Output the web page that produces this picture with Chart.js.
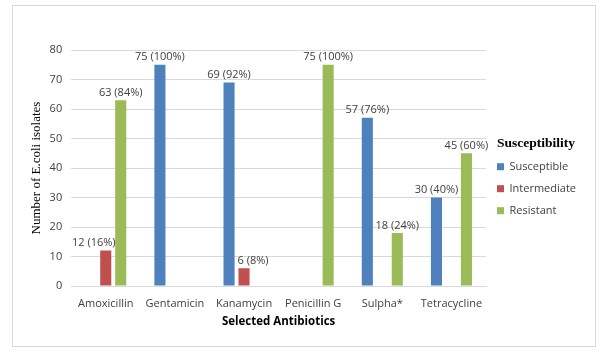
<!DOCTYPE html>
<html>
<head>
<meta charset="utf-8">
<script src="https://cdn.jsdelivr.net/npm/chart.js@4"></script>
<style>
html,body{margin:0;padding:0;background:#fff;}
#wrap{position:absolute;left:0;top:0;width:606px;height:355px;}
</style>
</head>
<body>
<div id="wrap"><canvas id="c" width="606" height="355"></canvas></div>
<script>
const categories = ["Amoxicillin", "Gentamicin", "Kanamycin", "Penicillin G", "Sulpha*", "Tetracycline"];
const susceptible = [0, 75, 69, 0, 57, 30];
const intermediate = [12, 0, 6, 0, 0, 0];
const resistant = [63, 0, 0, 75, 18, 45];
const totalIsolates = 75;
const seriesNames = ["Susceptible", "Intermediate", "Resistant"];
const yTicks = [0, 10, 20, 30, 40, 50, 60, 70, 80];

const tickFont = {family: "'Open Sans', sans-serif", size: 11};

const borderPlugin = {
  id: 'outerBorder',
  beforeDraw(chart) {
    const ctx = chart.ctx;
    ctx.save();
    ctx.fillStyle = '#fff';
    ctx.fillRect(0, 0, chart.width, chart.height);
    ctx.strokeStyle = '#d9d9d9';
    ctx.lineWidth = 1;
    ctx.strokeRect(12.5, 5.5, 583, 341);
    ctx.restore();
  }
};

const labelPlugin = {
  id: 'valueLabels',
  afterDatasetsDraw(chart, args, opts) {
    const ctx = chart.ctx;
    const nudges = opts.nudges || {};
    ctx.save();
    ctx.font = "11px 'Open Sans', sans-serif";
    ctx.fillStyle = '#404040';
    ctx.textAlign = 'center';
    ctx.textBaseline = 'bottom';
    chart.data.datasets.forEach((ds, di) => {
      const meta = chart.getDatasetMeta(di);
      meta.data.forEach((bar, i) => {
        const v = ds.data[i];
        if (!v) return;
        const pct = Math.round(v / totalIsolates * 100);
        const dx = nudges[di + '-' + i] || 0;
        ctx.fillText(v + ' (' + pct + '%)', bar.x + dx, bar.y - 2);
      });
    });
    ctx.restore();
  }
};

new Chart(document.getElementById('c'), {
  type: 'bar',
  data: {
    labels: categories,
    datasets: [
      {label: seriesNames[0], data: susceptible, backgroundColor: '#4F81BD'},
      {label: seriesNames[1], data: intermediate, backgroundColor: '#C0504D'},
      {label: seriesNames[2], data: resistant, backgroundColor: '#9BBB59'}
    ]
  },
  options: {
    responsive: false,
    animation: false,
    devicePixelRatio: 1,
    layout: {padding: {left: 15, top: 50, right: 20, bottom: 22}},
    datasets: {bar: {categoryPercentage: 0.65, barPercentage: 0.74}},
    plugins: {
      legend: {
        position: 'right',
        align: 'start',
        title: {display: true, text: 'Susceptibility', color: '#000', font: {family: "'Liberation Serif', serif", size: 13.5, weight: 'bold'}, padding: {top: 87, bottom: -3}},
        labels: {boxWidth: 7, boxHeight: 7, padding: 11, color: '#404040', font: tickFont}
      },
      valueLabels: {nudges: {'1-0': -12, '1-2': 9}},
      tooltip: {enabled: false}
    },
    scales: {
      x: {
        grid: {display: false},
        border: {color: '#d9d9d9'},
        ticks: {color: '#404040', font: tickFont, maxRotation: 0, padding: 3},
        title: {display: true, text: 'Selected Antibiotics', color: '#000', font: {family: "'Open Sans', sans-serif", size: 11.5, weight: 'bold'}, padding: {top: 2}}
      },
      y: {
        min: 0, max: 80,
        afterBuildTicks(axis) { axis.ticks = yTicks.map(v => ({value: v})); },
        grid: {color: '#d9d9d9', drawTicks: false},
        border: {display: false},
        ticks: {color: '#404040', font: tickFont, padding: 9},
        title: {display: true, text: 'Number of E.coli isolates', color: '#000', font: {family: "'Liberation Serif', serif", size: 13}, padding: {top: 14, bottom: -4}}
      }
    }
  },
  plugins: [borderPlugin, labelPlugin]
});
</script>
</body>
</html>
